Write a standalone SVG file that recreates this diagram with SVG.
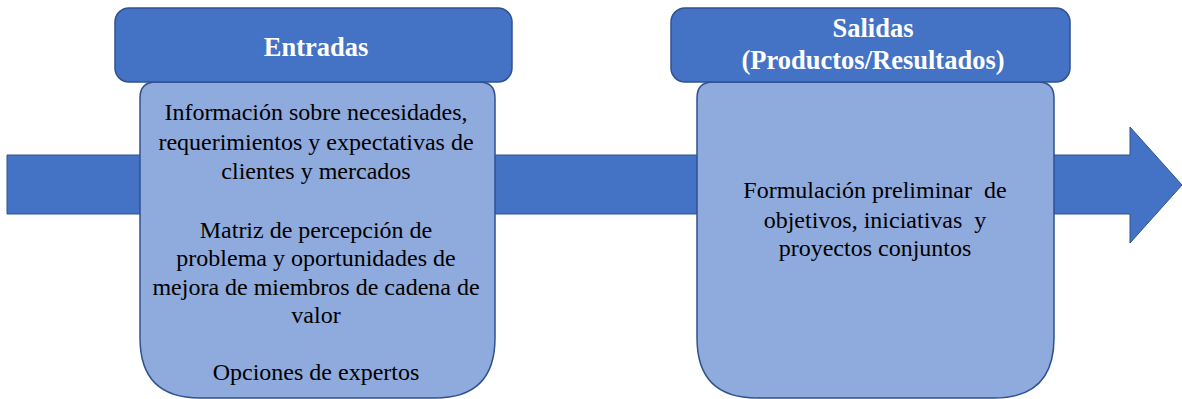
<svg xmlns="http://www.w3.org/2000/svg" width="1182" height="399" viewBox="0 0 1182 399">
<style>
.hdr{fill:#4472C4;stroke:#2F528F;stroke-width:1.5}
.body{fill:#8FAADC;stroke:#2F528F;stroke-width:1.5}
.arrow{fill:#4472C4;stroke:#2F528F;stroke-width:1}
.ht{font-weight:bold;font-size:26.5px;fill:#FFFFFF;text-anchor:middle}
.bt{font-size:24px;fill:#000000;text-anchor:middle}
</style>
<rect width="1182" height="399" fill="#FFFFFF"/>
<g id="connectors">
<path class="arrow" d="M7,155 H1130 V127 L1182,185 L1130,243 V214 H7 Z"/>
</g>
<g id="entradas" font-family="Liberation Serif, serif">
<path class="body" d="M140,98 Q140,82 156,82 H479 Q495,82 495,98 V338 Q495,398 435,398 H200 Q140,398 140,338 Z"/>
<rect class="hdr" x="115" y="8" width="397" height="74" rx="14"/>
<text class="ht" x="316" y="56" font-family="Liberation Serif">Entradas</text>
<text class="bt" x="316" y="120" font-family="Liberation Serif">Información sobre necesidades,</text>
<text class="bt" x="316" y="150" font-family="Liberation Serif">requerimientos y expectativas de</text>
<text class="bt" x="316" y="179" font-family="Liberation Serif">clientes y mercados</text>
<text class="bt" x="316" y="238" font-family="Liberation Serif">Matriz de percepción de</text>
<text class="bt" x="316" y="266" font-family="Liberation Serif">problema y oportunidades de</text>
<text class="bt" x="316" y="295" font-family="Liberation Serif">mejora de miembros de cadena de</text>
<text class="bt" x="316" y="323" font-family="Liberation Serif">valor</text>
<text class="bt" x="316" y="380" font-family="Liberation Serif">Opciones de expertos</text>
</g>
<g id="salidas" font-family="Liberation Serif, serif">
<path class="body" d="M697,98 Q697,82 713,82 H1038 Q1054,82 1054,98 V338 Q1054,398 994,398 H757 Q697,398 697,338 Z"/>
<rect class="hdr" x="671" y="8" width="399" height="74" rx="14"/>
<text class="ht" x="873" y="37" font-family="Liberation Serif">Salidas</text>
<text class="ht" x="873" y="69" font-family="Liberation Serif">(Productos/Resultados)</text>
<text class="bt" x="875" y="198" font-family="Liberation Serif" xml:space="preserve">Formulación preliminar  de</text>
<text class="bt" x="875" y="228" font-family="Liberation Serif" xml:space="preserve">objetivos, iniciativas  y</text>
<text class="bt" x="875" y="256" font-family="Liberation Serif">proyectos conjuntos</text>
</g>
</svg>
